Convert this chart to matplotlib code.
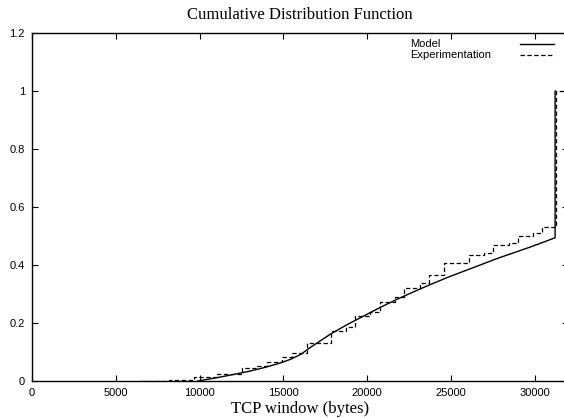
import matplotlib
matplotlib.use("Agg")
import matplotlib.pyplot as plt
from matplotlib.ticker import FuncFormatter

# model CDF (smooth curve)
model_x = [9900, 11000, 11900, 13000, 13850, 14700, 15450, 16050, 16650, 17800,
           18800, 19800, 20800, 21800, 22800, 23800, 24800, 25800, 26800, 27750,
           28750, 29750, 30500, 31230, 31230]
model_y = [0.0, 0.011, 0.021, 0.034, 0.046, 0.060, 0.075, 0.092, 0.117, 0.161,
           0.194, 0.224, 0.254, 0.282, 0.308, 0.333, 0.357, 0.379, 0.401, 0.422,
           0.442, 0.462, 0.478, 0.494, 1.0]

# measured CDF (steps)
exp_x = [6500, 8185, 9675, 11066, 12556, 13450, 14046, 14940, 15536, 16391,
         17822, 18775, 19312, 20206, 20762, 21696, 22233, 23147, 23683, 24577,
         26068, 26962, 27518, 28452, 28988, 29903, 30439, 31300, 31800]
exp_y = [0.001, 0.005, 0.014, 0.024, 0.044, 0.051, 0.067, 0.083, 0.095, 0.132,
         0.172, 0.186, 0.224, 0.239, 0.274, 0.290, 0.320, 0.338, 0.366, 0.406,
         0.433, 0.441, 0.469, 0.477, 0.501, 0.511, 0.532, 1.0, 1.0]

xticks = [0, 5000, 10000, 15000, 20000, 25000, 30000]
yticks = [0, 0.2, 0.4, 0.6, 0.8, 1.0, 1.2]
labels = ["Model", "Experimentation"]

fig = plt.figure(figsize=(5.64, 4.18), dpi=100)
ax = fig.add_axes([32/564, 37/418, 536/564, 348/418])

ax.plot(model_x, model_y, color="black", lw=1.0)
ln, = ax.step(exp_x, exp_y, where="post", color="black", lw=0.9)
ln.set_dashes([3.5, 2])

ax.set_xlim(0, 32000)
ax.set_ylim(0, 1.2)
ax.set_xticks(xticks)
ax.set_yticks(yticks)
ax.yaxis.set_major_formatter(FuncFormatter(lambda v, p: ("%g" % v)))
ax.tick_params(direction="in", length=4, width=0.8, top=True, right=True,
               labelsize=8, pad=5)
for lab in ax.get_xticklabels() + ax.get_yticklabels():
    lab.set_family("Liberation Sans")
for s in ax.spines.values():
    s.set_linewidth(1.0)

ax.set_title("Cumulative Distribution Function", family="Liberation Serif",
             fontsize=12, pad=10)
ax.set_xlabel("TCP window (bytes)", family="Liberation Serif", fontsize=12,
              labelpad=2)

# gnuplot style key: text left, line sample right
key_y = [0.968, 0.937]
ax.text(0.705, key_y[0], labels[0], transform=ax.transAxes, ha="left",
        va="center", family="Liberation Sans", fontsize=8)
ax.text(0.705, key_y[1], labels[1], transform=ax.transAxes, ha="left",
        va="center", family="Liberation Sans", fontsize=8)
ax.plot([0.910, 0.974], [key_y[0]] * 2, transform=ax.transAxes, color="black",
        lw=1.0, clip_on=False)
k, = ax.plot([0.910, 0.974], [key_y[1]] * 2, transform=ax.transAxes,
             color="black", lw=0.9, clip_on=False)
k.set_dashes([3.5, 2])

fig.savefig("out.png", dpi=100)
